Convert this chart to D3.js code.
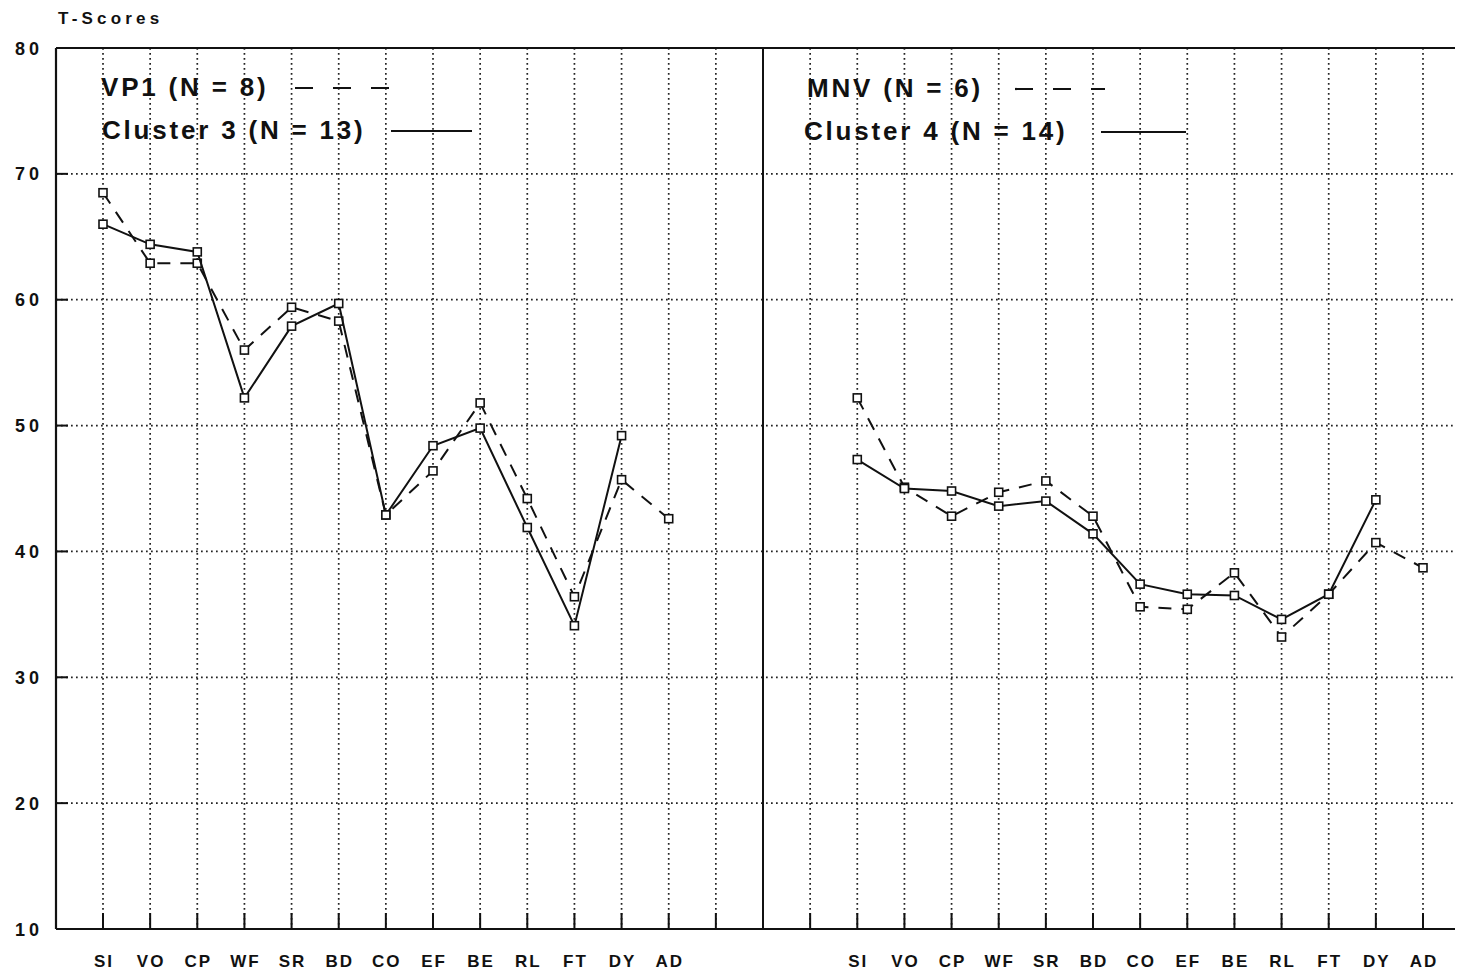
<!DOCTYPE html>
<html>
<head>
<meta charset="utf-8">
<script src="https://cdn.jsdelivr.net/npm/d3@7"></script>
<style>
  body { margin: 0; background: #fff; }
  text { font-family: "Liberation Sans", Arial, sans-serif; font-weight: bold; fill: #111; }
</style>
</head>
<body>
<script>
// test abbreviations along the x axis (same in both panels)
var tests = ["SI", "VO", "CP", "WF", "SR", "BD", "CO", "EF", "BE", "RL", "FT", "DY", "AD"];
var yTicks = [10, 20, 30, 40, 50, 60, 70, 80];

// left panel
var vp1 =      [68.5, 62.9, 62.9, 56.0, 59.4, 58.3, 42.9, 46.4, 51.8, 44.2, 36.4, 45.7, 42.6];
var cluster3 = [66.0, 64.4, 63.8, 52.2, 57.9, 59.7, 42.9, 48.4, 49.8, 41.9, 34.1, 49.2, null];
// right panel
var mnv =      [52.2, 45.1, 42.8, 44.7, 45.6, 42.8, 35.6, 35.4, 38.3, 33.2, 36.6, 40.7, 38.7];
var cluster4 = [47.3, 45.0, 44.8, 43.6, 44.0, 41.4, 37.4, 36.6, 36.5, 34.6, 36.6, 44.1, null];

var W = 1457, H = 974;
var frameLeft = 56, frameRight = 1455;
var rightOffset = 16;   // slot index of SI in right panel
var dividerSlot = 14;

var svg = d3.select("body").append("svg").attr("width", W).attr("height", H);

var x = d3.scaleLinear().domain([0, 28]).range([103, 1423]);
var y = d3.scaleLinear().domain([10, 80]).range([929, 48]);

// vertical grid slots: 0..13 left, 15..28 right
var slots = d3.range(0, 14).concat(d3.range(15, 29));

var grid = svg.append("g");
grid.selectAll("line.vg")
    .data(slots)
    .enter().append("line")
    .attr("x1", function (d) { return x(d); })
    .attr("x2", function (d) { return x(d); })
    .attr("y1", y(80))
    .attr("y2", y(10))
    .attr("stroke", "#222")
    .attr("stroke-width", 1.7)
    .attr("stroke-dasharray", "1.7,3.3");

grid.selectAll("line.hg")
    .data(yTicks.filter(function (d) { return d > 10 && d < 80; }))
    .enter().append("line")
    .attr("x1", frameLeft)
    .attr("x2", frameRight)
    .attr("y1", function (d) { return y(d); })
    .attr("y2", function (d) { return y(d); })
    .attr("stroke", "#222")
    .attr("stroke-width", 1.7)
    .attr("stroke-dasharray", "1.7,3.3");

// small solid ticks at the left axis and along the bottom
grid.selectAll("line.yt")
    .data(yTicks)
    .enter().append("line")
    .attr("x1", frameLeft)
    .attr("x2", frameLeft + 12)
    .attr("y1", function (d) { return y(d); })
    .attr("y2", function (d) { return y(d); })
    .attr("stroke", "#111")
    .attr("stroke-width", 2);

grid.selectAll("line.xt")
    .data(slots)
    .enter().append("line")
    .attr("x1", function (d) { return x(d); })
    .attr("x2", function (d) { return x(d); })
    .attr("y1", y(10))
    .attr("y2", y(10) - 16)
    .attr("stroke", "#111")
    .attr("stroke-width", 2);

// frame
var frame = svg.append("g").attr("stroke", "#111").attr("fill", "none");
frame.append("line").attr("x1", frameLeft).attr("x2", frameRight).attr("y1", y(80)).attr("y2", y(80)).attr("stroke-width", 2.2);
frame.append("line").attr("x1", frameLeft).attr("x2", frameRight).attr("y1", y(10)).attr("y2", y(10)).attr("stroke-width", 2.2);
frame.append("line").attr("x1", frameLeft).attr("x2", frameLeft).attr("y1", y(80)).attr("y2", y(10)).attr("stroke-width", 2.2);
frame.append("line").attr("x1", x(dividerSlot)).attr("x2", x(dividerSlot)).attr("y1", y(80)).attr("y2", y(10)).attr("stroke-width", 2);

// y labels
svg.selectAll("text.yl")
    .data(yTicks)
    .enter().append("text")
    .attr("x", 15)
    .attr("y", function (d) { return y(d) + 6.5; })
    .style("font-size", "18px")
    .style("letter-spacing", "4px")
    .text(function (d) { return d; });

svg.append("text")
    .attr("x", 58).attr("y", 24)
    .style("font-size", "17px")
    .style("letter-spacing", "4.2px")
    .text("T-Scores");

// x labels
[0, rightOffset].forEach(function (off) {
    svg.selectAll(null)
        .data(tests)
        .enter().append("text")
        .attr("x", function (d, i) { return x(i + off) + 1; })
        .attr("y", 967)
        .attr("text-anchor", "middle")
        .style("font-size", "17px")
        .style("letter-spacing", "2px")
        .text(function (d) { return d; });
});

// series
function drawSeries(values, off, dashed) {
    var pts = values.map(function (v, i) { return {i: i + off, v: v}; })
        .filter(function (d) { return d.v != null; });
    var line = d3.line()
        .x(function (d) { return x(d.i); })
        .y(function (d) { return y(d.v); });
    svg.append("path")
        .attr("d", line(pts))
        .attr("fill", "none")
        .attr("stroke", "#111")
        .attr("stroke-width", 2)
        .attr("stroke-dasharray", dashed ? "13,10" : null);
    svg.selectAll(null)
        .data(pts)
        .enter().append("rect")
        .attr("x", function (d) { return x(d.i) - 4; })
        .attr("y", function (d) { return y(d.v) - 4; })
        .attr("width", 8)
        .attr("height", 8)
        .attr("fill", "#fff")
        .attr("stroke", "#111")
        .attr("stroke-width", 1.6);
}

drawSeries(vp1, 0, true);
drawSeries(cluster3, 0, false);
drawSeries(mnv, rightOffset, true);
drawSeries(cluster4, rightOffset, false);

// legends
var legends = [
    {label: "VP1 (N = 8)", tx: 101, ty: 96, x1: 295, x2: 393, dashed: true},
    {label: "Cluster 3 (N = 13)", tx: 102, ty: 139, x1: 391, x2: 472, dashed: false},
    {label: "MNV (N = 6)", tx: 807, ty: 97, x1: 1015, x2: 1105, dashed: true},
    {label: "Cluster 4 (N = 14)", tx: 804, ty: 140, x1: 1101, x2: 1186, dashed: false}
];
legends.forEach(function (d) {
    svg.append("text")
        .attr("x", d.tx).attr("y", d.ty)
        .style("font-size", "26px")
        .style("letter-spacing", "2.8px")
        .text(d.label);
    svg.append("line")
        .attr("x1", d.x1).attr("x2", d.x2)
        .attr("y1", d.ty - 8).attr("y2", d.ty - 8)
        .attr("stroke", "#111")
        .attr("stroke-width", 2.2)
        .attr("stroke-dasharray", d.dashed ? "18,20" : null);
});
</script>
</body>
</html>
